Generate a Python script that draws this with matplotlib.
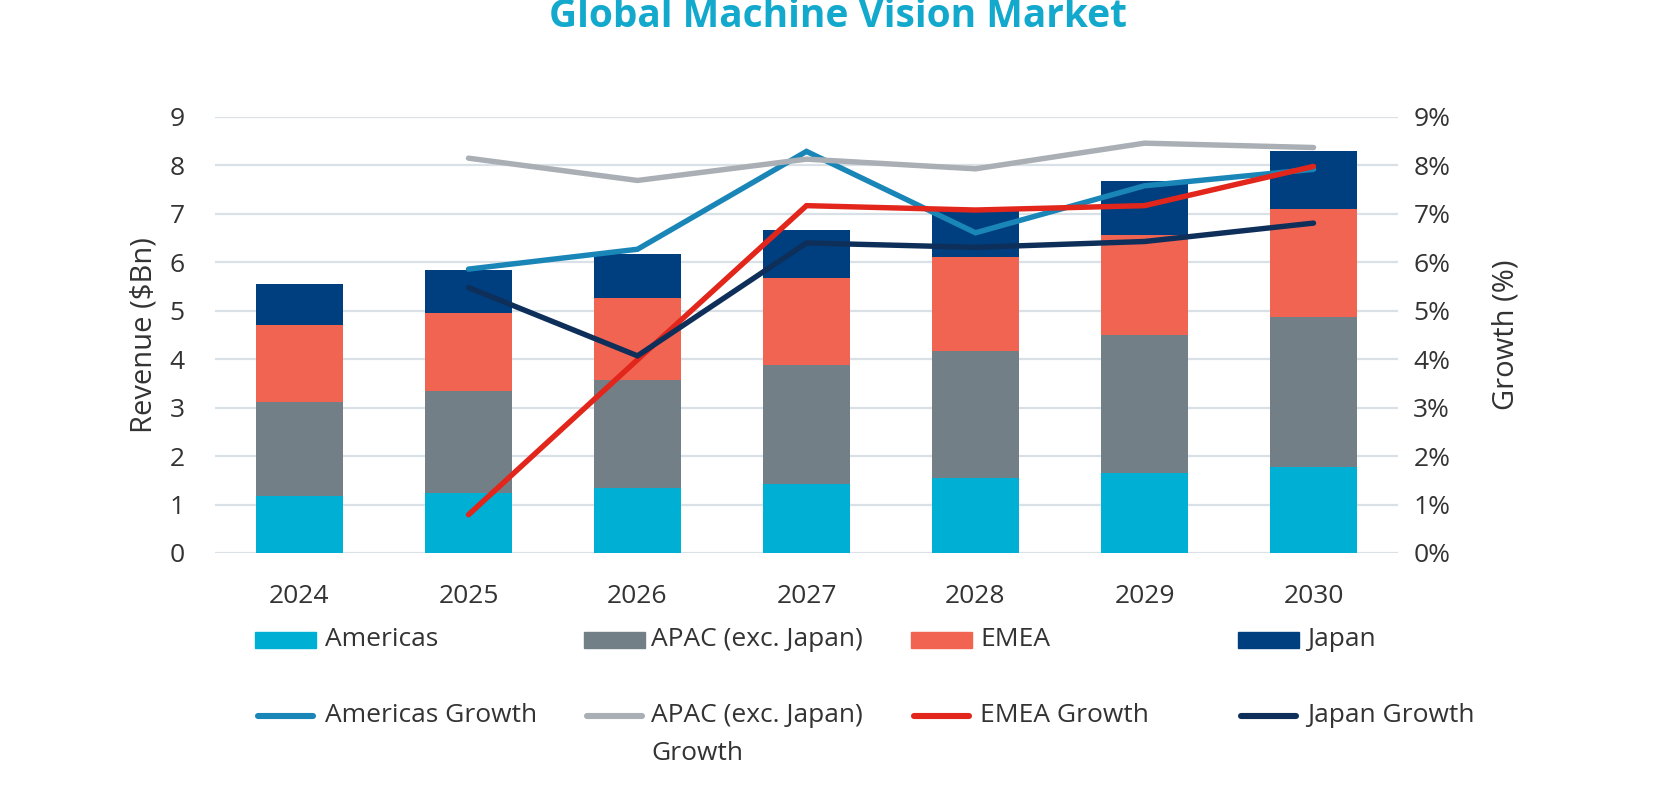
import matplotlib
matplotlib.use("Agg")
import matplotlib.pyplot as plt
from matplotlib.patches import Rectangle
from matplotlib.lines import Line2D
import numpy as np

plt.rcParams['font.family'] = ['Open Sans', 'DejaVu Sans']

years = ['2024', '2025', '2026', '2027', '2028', '2029', '2030']
americas = [1.18, 1.24, 1.34, 1.43, 1.54, 1.65, 1.78]
apac = [1.93, 2.10, 2.24, 2.45, 2.63, 2.86, 3.09]
emea = [1.60, 1.62, 1.68, 1.79, 1.93, 2.06, 2.24]
japan = [0.85, 0.88, 0.91, 0.99, 0.98, 1.11, 1.19]

growth_years = ['2025', '2026', '2027', '2028', '2029', '2030']
americas_growth = [5.86, 6.27, 8.29, 6.61, 7.58, 7.92]
apac_growth = [8.15, 7.69, 8.13, 7.93, 8.46, 8.37]
emea_growth = [0.79, 3.99, 7.17, 7.08, 7.17, 7.98]
japan_growth = [5.48, 4.07, 6.40, 6.31, 6.43, 6.81]

bar_labels = ['Americas', 'APAC (exc. Japan)', 'EMEA', 'Japan']
line_labels = ['Americas Growth', 'APAC (exc. Japan)\nGrowth', 'EMEA Growth', 'Japan Growth']
left_ticks = list(range(0, 10))
right_ticks = [f'{v}%' for v in range(0, 10)]

bar_colors = ['#00B0D4', '#737F87', '#F26452', '#003F7F']
line_colors = ['#1A86B8', '#A9AFB4', '#E2261B', '#0F2F5B']
text_color = '#333333'
grid_color = '#D9E0E6'

W, H = 1680, 800
fig = plt.figure(figsize=(W / 100, H / 100), dpi=100)
ax = fig.add_axes([215 / W, 1 - 553 / H, (1398 - 215) / W, (553 - 117) / H])

x = np.arange(len(years))
series = [americas, apac, emea, japan]
bottom = np.zeros(len(years))
for vals, col, lab in zip(series, bar_colors, bar_labels):
    ax.bar(x, vals, width=0.51, bottom=bottom, color=col, label=lab, zorder=2)
    bottom += np.array(vals)

ax.set_xlim(-0.5, len(years) - 0.5)
ax.set_ylim(0, 9)
ax.set_yticks(left_ticks)
ax.set_yticklabels([str(t) for t in left_ticks])
ax.set_xticks(x)
ax.set_xticklabels(years)
ax.set_axisbelow(True)
ax.grid(axis='y', color=grid_color, linewidth=1.6, zorder=0)
for s in ax.spines.values():
    s.set_visible(False)
ax.tick_params(axis='both', length=0, labelsize=19, colors=text_color)
ax.tick_params(axis='x', pad=22)
ax.tick_params(axis='y', pad=22)
ax.set_ylabel('Revenue ($Bn)', fontsize=21, color=text_color, labelpad=8)

ax2 = ax.twinx()
ax2.set_ylim(0, 9)
ax2.set_yticks(left_ticks)
ax2.set_yticklabels(right_ticks)
for s in ax2.spines.values():
    s.set_visible(False)
ax2.tick_params(axis='y', length=0, labelsize=19, colors=text_color, pad=11)
ax2.set_ylabel('Growth (%)', fontsize=21, color=text_color, labelpad=30)

gx = [years.index(y) for y in growth_years]
for vals, col, lab in zip([americas_growth, apac_growth, emea_growth, japan_growth], line_colors, line_labels):
    ax2.plot(gx, vals, color=col, lw=3.9, solid_capstyle='round', solid_joinstyle='miter', label=lab)

# Title
fig.text(838 / W, 1 - 27 / H, 'Global Machine Vision Market', ha='center', va='baseline',
         fontsize=28, fontweight='bold', color='#12A9CD')

# Legend (manual)
col_x = [255, 584, 911, 1238]
text_x = [325, 651, 980, 1307]
row1_y = 640
row2_y = 716
for i in range(4):
    fig.patches.append(Rectangle((col_x[i] / W, 1 - (row1_y + 8) / H), 61 / W, 16 / H,
                                 transform=fig.transFigure, color=bar_colors[i]))
    fig.text(text_x[i] / W, 1 - row1_y / H, bar_labels[i], ha='left', va='center',
             fontsize=19, color=text_color)
    fig.lines.append(Line2D([(col_x[i] + 3) / W, (col_x[i] + 58) / W], [1 - row2_y / H, 1 - row2_y / H],
                            transform=fig.transFigure, color=line_colors[i], lw=4.4,
                            solid_capstyle='round'))
    parts = line_labels[i].split('\n')
    fig.text(text_x[i] / W, 1 - row2_y / H, parts[0], ha='left', va='center',
             fontsize=19, color=text_color)
    if len(parts) > 1:
        fig.text(text_x[i] / W, 1 - 754 / H, parts[1], ha='left', va='center',
                 fontsize=19, color=text_color)

fig.savefig('out.png', dpi=100, facecolor='white')
